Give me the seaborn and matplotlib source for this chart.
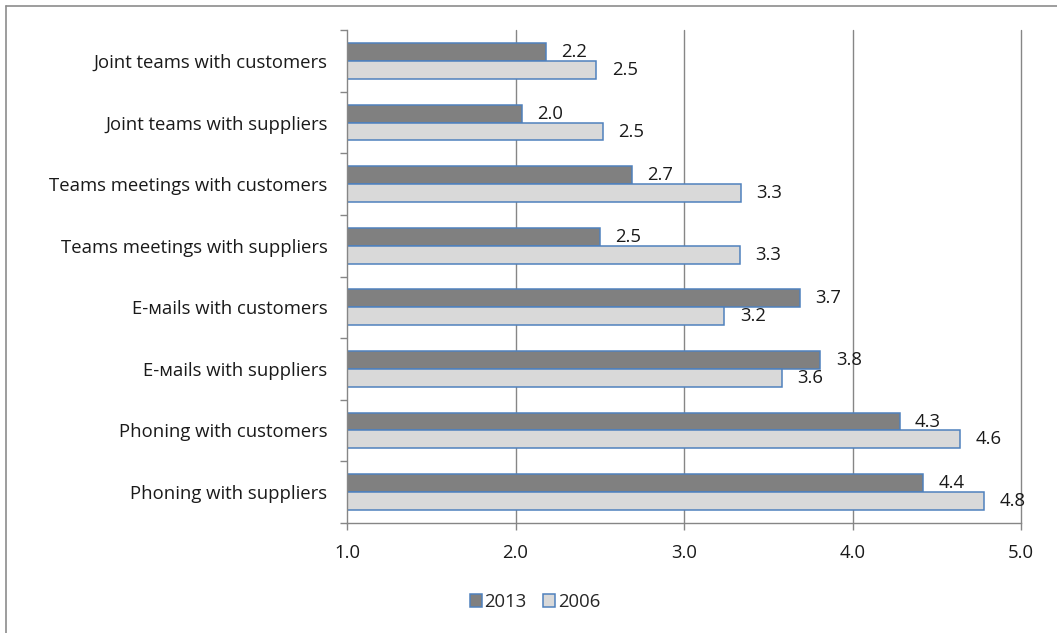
import matplotlib
matplotlib.use("Agg")
import matplotlib.pyplot as plt
import seaborn as sns
import pandas as pd
import numpy as np
from matplotlib.lines import Line2D
from matplotlib.patches import Patch

categories = [
    "Joint teams with customers",
    "Joint teams with suppliers",
    "Teams meetings with customers",
    "Teams meetings with suppliers",
    "E-мails with customers",
    "E-мails with suppliers",
    "Phoning with customers",
    "Phoning with suppliers",
]
values_2013 = [2.18, 2.04, 2.69, 2.50, 3.69, 3.81, 4.28, 4.42]
values_2006 = [2.48, 2.52, 3.34, 3.33, 3.24, 3.58, 4.64, 4.78]
series = ["2013", "2006"]
xticks = [1.0, 2.0, 3.0, 4.0, 5.0]

df = pd.DataFrame({
    "category": categories * 2,
    "value": values_2013 + values_2006,
    "year": [series[0]] * len(categories) + [series[1]] * len(categories),
})

sns.set_theme(style="white")
plt.rcParams["font.family"] = ["Open Sans", "DejaVu Sans"]
FS = 13.3
TXT = "#1a1a1a"

fig = plt.figure(figsize=(10.57, 6.33), dpi=100)
ax = fig.add_axes([347 / 1057, 1 - 522.8 / 633, (1021 - 347) / 1057, (522.8 - 30.3) / 633])

palette = {"2013": "#808080", "2006": "#D9D9D9"}
sns.barplot(data=df, y="category", x="value", hue="year", order=categories,
            hue_order=series, palette=palette, orient="h", width=0.58, gap=0,
            edgecolor="#4F81BD", linewidth=1.1, ax=ax, legend=False, zorder=3)

ax.set_xlim(1.0, 5.0)
ax.set_ylim(len(categories) - 0.5, -0.5)
ax.set_xticks(xticks)
ax.set_xticklabels([f"{t:.1f}" for t in xticks], fontsize=FS, color=TXT)
ax.set_yticks(range(len(categories)))
ax.set_yticklabels(categories, fontsize=FS, color=TXT)
ax.set_yticks(np.arange(-0.5, len(categories), 1.0), minor=True)
ax.tick_params(axis="y", which="major", length=0, pad=14)
ax.tick_params(axis="y", which="minor", length=5, width=1, color="#868686", direction="out", left=True)
ax.tick_params(axis="x", which="major", length=5, width=1, color="#868686", direction="out", bottom=True, pad=10)
ax.set_xlabel("")
ax.set_ylabel("")

for v in xticks[1:]:
    ax.axvline(v, color="#868686", linewidth=1, zorder=1, clip_on=False)

for s in ["top", "right"]:
    ax.spines[s].set_visible(False)
for s in ["left", "bottom"]:
    ax.spines[s].set_color("#868686")
    ax.spines[s].set_linewidth(1)
    ax.spines[s].set_zorder(4)

for container in ax.containers:
    ax.bar_label(container, labels=[f"{v:.1f}" for v in container.datavalues],
                 padding=11, fontsize=FS, color=TXT)

handles = [Patch(facecolor=palette[s], edgecolor="#4F81BD", linewidth=1.1) for s in series]
fig.legend(handles, series, loc="center", bbox_to_anchor=(535 / 1057, 1 - 602 / 633),
           ncol=2, frameon=False, fontsize=FS, handlelength=0.65, handleheight=0.65,
           handletextpad=0.15, columnspacing=0.9)

fig.add_artist(Line2D([6 / 1057, 6 / 1057], [0, 1 - 6 / 633], transform=fig.transFigure,
                      color="#8C8C8C", linewidth=1.2))
fig.add_artist(Line2D([6 / 1057, 1], [1 - 6 / 633, 1 - 6 / 633], transform=fig.transFigure,
                      color="#8C8C8C", linewidth=1.2))

fig.savefig("out.png", dpi=100)
